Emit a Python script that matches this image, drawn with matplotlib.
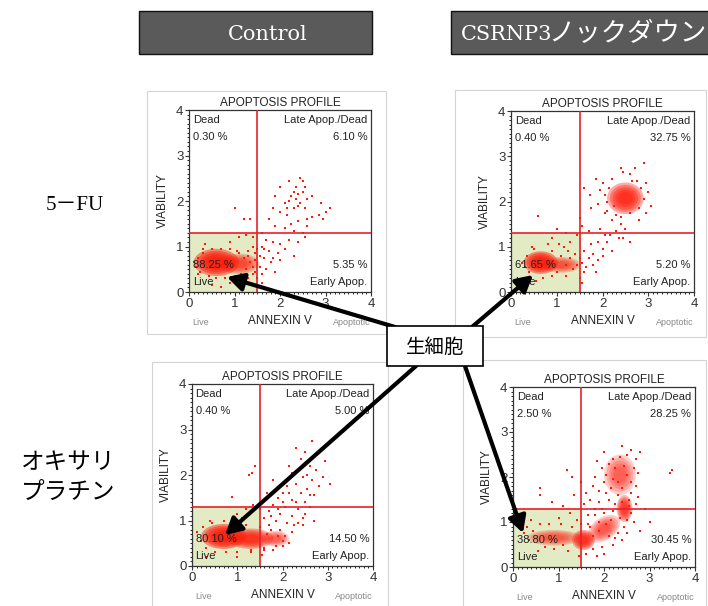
import numpy as np
import matplotlib.pyplot as plt
from matplotlib.patches import Rectangle, Ellipse

plt.rcParams['font.family'] = ['Liberation Sans', 'Noto Sans CJK JP']

W, H = 708, 606

# Percentages per quadrant: dead, late, early, live
tl_pct = ['0.30', '6.10', '5.35', '88.25']
tr_pct = ['0.40', '32.75', '5.20', '61.65']
bl_pct = ['0.40', '5.00', '14.50', '80.10']
br_pct = ['2.50', '28.25', '30.45', '38.80']

# dense cores: (cx, cy, width, height, angle, strength)
tl_cores = [(0.6, 0.65, 1.0, 0.6, 0, 1.0), (1.1, 0.62, 0.9, 0.45, 0, 0.55)]
tr_cores = [(0.65, 0.65, 0.75, 0.5, 0, 1.0), (1.1, 0.6, 0.85, 0.35, 0, 0.5),
            (2.5, 2.07, 0.8, 0.7, 0, 0.8)]
bl_cores = [(0.7, 0.65, 1.0, 0.55, 0, 1.0), (1.3, 0.6, 1.0, 0.45, 0, 0.75),
            (1.85, 0.6, 0.6, 0.35, 0, 0.45)]
br_cores = [(0.9, 0.65, 1.2, 0.35, 0, 0.45), (1.55, 0.6, 0.5, 0.45, 0, 0.8),
            (2.0, 0.85, 0.8, 0.5, 35, 0.5), (2.45, 1.3, 0.35, 0.6, 0, 0.7),
            (2.35, 2.05, 0.7, 0.9, 0, 0.45)]

tl_pts = [(2.2, 2.45), (2.45, 2.5), (2.5, 2.45), (2.0, 2.3), (2.3, 2.2), (2.4, 2.15), (2.5, 2.2),
          (2.35, 2.05), (2.2, 2.0), (2.1, 1.95), (2.45, 1.95), (2.6, 2.05), (2.7, 2.1), (2.55, 1.85),
          (2.3, 1.85), (1.9, 2.1), (1.85, 1.85), (2.0, 1.75), (2.15, 1.7), (2.7, 1.65), (2.85, 1.7),
          (2.95, 1.6), (3.0, 1.75), (3.1, 1.85), (2.9, 1.95), (2.6, 1.6), (2.4, 1.55), (1.75, 1.6),
          (1.9, 1.45), (2.1, 1.4), (2.3, 1.35), (2.5, 1.3), (2.6, 1.45), (1.6, 1.3), (1.7, 1.15),
          (1.85, 1.1), (2.0, 1.05), (2.2, 1.15), (2.4, 1.1), (2.55, 1.2), (1.6, 1.0), (1.75, 0.9),
          (1.95, 0.85), (2.1, 0.95), (1.65, 0.75), (1.8, 0.65), (2.0, 0.7), (1.55, 0.55), (1.7, 0.5),
          (1.9, 0.45), (1.6, 0.4), (1.5, 0.3), (1.2, 1.6), (1.35, 1.6), (1.0, 1.85), (1.25, 1.25),
          (1.1, 1.2), (1.4, 1.2), (0.9, 1.1), (2.3, 0.8), (1.6, 0.2), (1.15, 0.15), (0.9, 0.2),
          (0.7, 0.1), (0.5, 0.15), (1.3, 0.3), (1.4, 0.4), (1.45, 0.85), (1.3, 0.9), (0.3, 0.95),
          (0.2, 0.4), (0.15, 0.55), (0.2, 0.75), (0.25, 0.45), (0.3, 0.85), (1.1, 0.85), (1.2, 0.75),
          (1.25, 0.5), (1.35, 0.65), (1.4, 0.55), (1.3, 0.8), (1.15, 0.4), (1.0, 0.35), (0.8, 0.3),
          (0.6, 0.3), (0.45, 0.35), (0.5, 0.95), (0.7, 0.95), (0.9, 0.95), (1.45, 0.7), (1.05, 0.9),
          (2.35, 2.3), (2.25, 2.1), (2.55, 2.3), (2.4, 1.9), (2.15, 1.85), (1.65, 0.95), (1.85, 0.75),
          (2.25, 1.5), (1.55, 0.8), (1.5, 0.95), (0.35, 1.05), (0.1, 0.65), (1.45, 0.45), (1.4, 1.0)]

tr_pts = [(0.6, 1.67), (2.9, 2.85), (2.6, 2.6), (2.7, 2.75), (2.45, 2.65), (1.5, 1.63), (1.73, 2.15),
          (1.6, 2.3), (1.85, 2.5), (2.0, 2.4), (1.9, 1.95), (1.75, 1.85), (2.05, 1.75), (2.2, 1.6),
          (3.05, 1.9), (3.0, 2.2), (2.95, 1.75), (2.2, 2.5), (2.4, 2.75), (2.17, 1.26), (2.3, 1.35),
          (2.4, 1.5), (2.5, 1.4), (2.35, 1.2), (2.1, 1.1), (1.9, 1.1), (2.0, 0.95), (1.8, 0.85),
          (1.6, 0.9), (1.7, 0.75), (1.55, 0.65), (1.65, 0.55), (1.8, 0.6), (1.6, 0.45), (1.9, 0.7),
          (2.2, 0.9), (2.45, 1.2), (1.3, 1.1), (1.0, 1.4), (1.2, 1.3), (1.45, 1.25), (0.9, 1.2),
          (1.7, 1.35), (1.55, 1.45), (1.95, 1.4), (2.6, 1.1), (1.5, 0.3), (1.55, 0.2), (2.1, 2.0),
          (2.15, 2.3), (2.85, 2.3), (2.8, 1.85), (2.6, 1.75), (2.3, 1.7), (2.75, 2.45), (2.25, 1.9),
          (2.9, 2.05), (0.3, 0.55), (0.35, 0.8), (0.4, 0.45), (0.5, 0.95), (0.9, 0.9), (1.0, 0.45),
          (1.1, 0.8), (1.2, 0.6), (1.3, 0.75), (1.35, 0.5), (1.45, 0.6), (1.4, 0.85), (0.7, 0.3),
          (0.9, 0.35), (1.2, 0.35), (0.45, 1.0), (0.8, 1.05), (1.15, 1.0), (0.25, 0.65), (0.55, 0.25),
          (2.05, 2.15), (2.1, 1.8), (2.95, 2.4), (2.8, 1.6), (2.4, 1.65), (2.65, 2.45), (1.95, 2.25),
          (1.75, 1.05), (2.05, 1.25), (1.85, 0.45), (2.0, 0.8), (1.5, 0.75), (1.25, 0.9), (1.05, 1.05)]

bl_pts = [(2.65, 2.75), (2.94, 2.3), (1.4, 2.2), (1.32, 2.04), (1.25, 2.0), (0.88, 1.52), (3.05, 1.8),
          (2.5, 2.5), (2.4, 2.35), (2.6, 2.2), (2.75, 2.1), (2.2, 2.05), (2.45, 1.95), (2.65, 1.9),
          (2.8, 1.75), (2.3, 1.8), (2.1, 1.75), (2.55, 1.7), (2.0, 1.6), (2.4, 1.6), (2.7, 1.55),
          (1.9, 1.5), (2.2, 1.45), (2.5, 1.4), (1.8, 1.35), (2.05, 1.3), (2.35, 1.25), (1.7, 1.2),
          (1.95, 1.15), (2.2, 1.1), (2.5, 1.15), (1.6, 1.05), (1.85, 1.0), (2.1, 0.95), (2.35, 0.95),
          (1.7, 0.9), (1.95, 0.8), (2.2, 0.75), (1.6, 0.4), (1.8, 0.35), (2.0, 0.45), (1.55, 0.25),
          (1.9, 1.25), (2.6, 1.3), (1.55, 1.4), (1.65, 1.6), (1.5, 1.25), (1.35, 1.35), (1.2, 1.25),
          (1.0, 1.15), (2.9, 1.95), (2.15, 2.2), (1.8, 1.9), (2.3, 2.6), (0.4, 1.0), (0.3, 0.2),
          (1.0, 0.2), (1.3, 0.3), (2.45, 0.9), (2.7, 1.0), (0.1, 0.75), (0.2, 0.55), (0.25, 0.85),
          (0.3, 0.4), (0.45, 0.95), (0.7, 1.0), (0.95, 0.95), (1.2, 0.9), (1.5, 0.85), (1.75, 0.8),
          (1.9, 0.65), (2.0, 0.55), (1.85, 0.45), (1.6, 0.35), (1.3, 0.35), (1.0, 0.3), (0.75, 0.3),
          (0.5, 0.3), (1.1, 1.05), (2.05, 0.65), (2.55, 2.0), (2.35, 2.1), (2.15, 1.6), (2.6, 1.55),
          (2.3, 1.4), (2.0, 1.4), (1.75, 1.1), (2.25, 0.9), (2.45, 1.05), (1.65, 0.7), (2.15, 0.5)]

br_pts = [(3.45, 2.08), (3.5, 2.15), (1.18, 2.15), (0.59, 1.75), (0.6, 1.6), (2.8, 2.56), (2.6, 2.6),
          (2.5, 2.5), (2.7, 2.4), (2.2, 2.4), (2.1, 2.3), (1.95, 2.2), (1.8, 2.0), (2.0, 1.9),
          (1.75, 1.8), (1.9, 1.7), (2.15, 1.75), (1.6, 1.65), (1.7, 1.5), (1.9, 1.45), (2.1, 1.5),
          (2.3, 1.6), (2.6, 1.65), (2.7, 1.8), (2.75, 2.1), (2.55, 1.5), (1.55, 1.4), (1.8, 1.3),
          (2.0, 1.2), (2.2, 1.25), (1.65, 1.15), (1.9, 1.0), (2.15, 1.05), (2.35, 1.1), (2.6, 1.2),
          (2.7, 1.4), (2.65, 1.0), (2.45, 0.9), (2.3, 0.75), (2.1, 0.7), (2.4, 0.6), (2.2, 0.5),
          (1.95, 0.45), (1.75, 0.4), (1.6, 0.3), (1.85, 0.25), (2.0, 0.3), (1.4, 1.05), (1.25, 1.2),
          (1.1, 1.35), (0.85, 1.45), (1.0, 1.1), (0.4, 1.05), (1.35, 1.6), (1.5, 1.9), (1.3, 2.0),
          (2.45, 2.25), (2.3, 1.9), (2.05, 2.05), (1.85, 2.35), (2.4, 2.7), (2.9, 1.3), (3.0, 1.0),
          (2.8, 0.8), (1.45, 0.25), (1.2, 0.35), (0.9, 0.4), (0.55, 0.35), (0.35, 0.6), (0.25, 0.75),
          (0.3, 0.9), (0.6, 0.95), (0.8, 0.95), (1.05, 0.95), (1.3, 0.9), (1.7, 0.9), (1.5, 0.95),
          (2.5, 0.75), (2.55, 1.35), (2.5, 1.05), (2.25, 2.2), (2.5, 2.05), (2.6, 1.9), (2.4, 1.75),
          (2.2, 1.95), (2.05, 1.65), (1.95, 1.3), (2.25, 1.4), (2.4, 1.45), (1.8, 1.15), (2.05, 0.95),
          (1.75, 0.7), (2.25, 0.65), (1.9, 0.8), (2.65, 2.2), (2.35, 2.45), (2.0, 2.55), (2.75, 1.55),
          (1.65, 0.95), (0.7, 0.45), (1.1, 0.5), (0.45, 0.8)]

# layout in pixels: axes box (x0, y0, x1, y1) and screenshot frame
tl_box, tl_frame = (189, 110, 371, 292), (147, 91, 386, 334)
tr_box, tr_frame = (511, 111, 694, 292), (455, 90, 706, 337)
bl_box, bl_frame = (192, 384, 373, 566), (152, 362, 388, 612)
br_box, br_frame = (513, 387, 695, 567), (463, 360, 706, 612)

x_gate, y_gate = 1.5, 1.3
red = '#e8202a'
dot = '#ff1a0a'

fig = plt.figure(figsize=(W / 100, H / 100), dpi=100)


def frac(box):
    x0, y0, x1, y1 = box
    return [x0 / W, 1 - y1 / H, (x1 - x0) / W, (y1 - y0) / H]


def panel(box, pct, cores, pts):
    ax = fig.add_axes(frac(box))
    ax.set_xlim(0, 4)
    ax.set_ylim(0, 4)
    ax.add_patch(Rectangle((0, 0), x_gate, y_gate, color='#e3ebc5', zorder=0))
    for cx, cy, w, h, ang, st in cores:
        for k in [1.0, 0.85, 0.7, 0.55, 0.4]:
            ax.add_patch(Ellipse((cx, cy), w * k, h * k, angle=ang, color=dot,
                                 alpha=min(0.45 * st, 0.6), lw=0, zorder=1))
    p = np.array(pts)
    ax.scatter(p[:, 0], p[:, 1], s=4, color=dot, marker='s', lw=0, zorder=2)
    ax.axvline(x_gate, color=red, lw=1.2, zorder=3)
    ax.axhline(y_gate, color=red, lw=1.2, zorder=3)
    kw = dict(fontsize=8, color='#222222', transform=ax.transAxes, zorder=4)
    ax.text(0.02, 0.975, 'Dead', va='top', **kw)
    ax.text(0.02, 0.88, pct[0] + ' %', va='top', **kw)
    ax.text(0.98, 0.975, 'Late Apop./Dead', va='top', ha='right', **kw)
    ax.text(0.98, 0.88, pct[1] + ' %', va='top', ha='right', **kw)
    ax.text(0.98, 0.12, pct[2] + ' %', va='bottom', ha='right', **kw)
    ax.text(0.98, 0.025, 'Early Apop.', va='bottom', ha='right', **kw)
    ax.text(0.02, 0.12, pct[3] + ' %', va='bottom', **kw)
    ax.text(0.02, 0.025, 'Live', va='bottom', **kw)
    ax.set_title('APOPTOSIS PROFILE', fontsize=8.5, pad=3, color='#222222')
    ax.set_ylabel('VIABILITY', fontsize=8.5, labelpad=5, color='#222222')
    ax.set_xlabel('ANNEXIN V', fontsize=8.5, labelpad=4, color='#222222')
    ax.text(0.02, -0.17, 'Live', fontsize=6.5, color='#888888', transform=ax.transAxes,
            va='center')
    ax.text(1.0, -0.17, 'Apoptotic', fontsize=6.5, color='#888888', transform=ax.transAxes,
            va='center', ha='right')
    ax.set_xticks([0, 1, 2, 3, 4])
    ax.set_yticks([0, 1, 2, 3, 4])
    ax.set_xticks(np.arange(0, 4.01, 0.1), minor=True)
    ax.set_yticks(np.arange(0, 4.01, 0.1), minor=True)
    ax.tick_params(labelsize=9.5, length=3, pad=1, colors='#333333')
    ax.tick_params(which='minor', length=1.5)
    for s in ax.spines.values():
        s.set_color('#333333')
        s.set_linewidth(0.9)


panel(tl_box, tl_pct, tl_cores, tl_pts)
panel(tr_box, tr_pct, tr_cores, tr_pts)
panel(bl_box, bl_pct, bl_cores, bl_pts)
panel(br_box, br_pct, br_cores, br_pts)

# overlay for frames, headers, arrows
ov = fig.add_axes([0, 0, 1, 1], zorder=10)
ov.set_xlim(0, W)
ov.set_ylim(H, 0)
ov.axis('off')
ov.patch.set_alpha(0)

for x0, y0, x1, y1 in [tl_frame, tr_frame, bl_frame, br_frame]:
    ov.add_patch(Rectangle((x0, y0), x1 - x0, y1 - y0, fill=False, ec='#d4d4d4', lw=0.8))

ov.add_patch(Rectangle((139, 11), 233, 43, fc='#5a5a5a', ec='#111111', lw=1))
ov.add_patch(Rectangle((451, 11), 270, 43, fc='#5a5a5a', ec='#111111', lw=1))
ov.text(268, 34, 'Control', color='white', fontsize=15, ha='center', va='center',
        family=['DejaVu Serif'])
ov.text(461, 34, 'CSRNP3', color='white', fontsize=15, ha='left', va='center',
        family=['DejaVu Serif'])
ov.text(548, 34, 'ノックダウン', color='white', fontsize=19, ha='left', va='center',
        family=['Noto Sans CJK JP'])

ov.text(75, 206, '5－FU', fontsize=15, ha='center', va='center',
        family=['Liberation Serif', 'Noto Sans CJK JP'])
ov.text(68, 462, 'オキサリ', fontsize=17, ha='center', va='center', family=['Noto Sans CJK JP'])
ov.text(68, 492, 'プラチン', fontsize=17, ha='center', va='center', family=['Noto Sans CJK JP'])

arrows = [((395, 327), (227, 277)), ((472, 327), (533, 275)),
          ((416, 366), (225, 535)), ((465, 366), (523, 533))]
for start, tip in arrows:
    ov.annotate('', xy=tip, xytext=start,
                arrowprops=dict(arrowstyle='-|>,head_length=0.55,head_width=0.3', lw=3,
                                color='black', shrinkA=0, shrinkB=0, mutation_scale=18))

ov.add_patch(Rectangle((387, 326), 96, 40, fc='white', ec='black', lw=1.2, zorder=5))
ov.text(435, 347, '生細胞', fontsize=14, ha='center', va='center', zorder=6,
        family=['Noto Sans CJK JP'])

fig.savefig('out.png', dpi=100)
